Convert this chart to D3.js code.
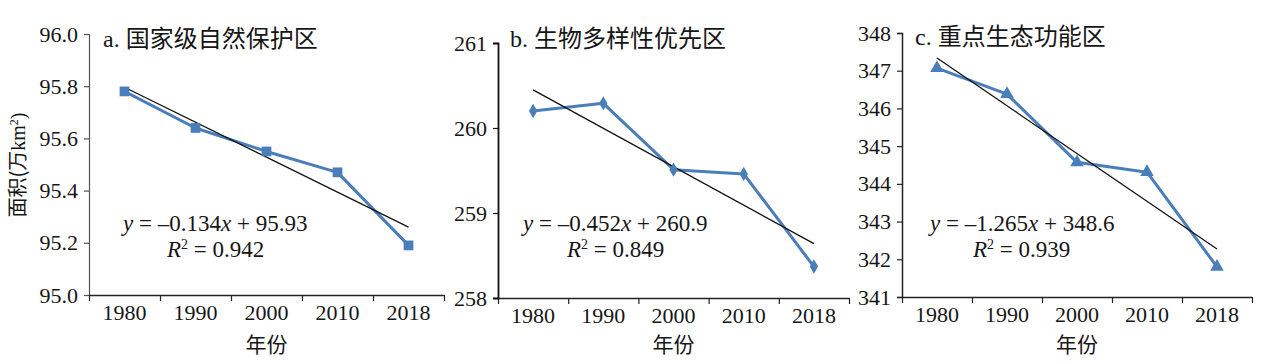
<!DOCTYPE html>
<html><head><meta charset="utf-8">
<script src="https://cdn.jsdelivr.net/npm/d3@7"></script>
<style>
body{margin:0;background:#fff;}
svg{display:block;}
text{font-family:"Liberation Serif","Times New Roman","DejaVu Serif",serif;fill:#161616;}
.num{font-family:"Liberation Serif","Times New Roman","DejaVu Serif",serif !important;}
.cjk{font-family:"Noto Sans CJK SC",sans-serif !important;}
</style></head>
<body><svg id="c" width="1274" height="364"></svg>
<script>
const years = ["1980","1990","2000","2010","2018"];
const seriesA = [95.78, 95.64, 95.55, 95.47, 95.19];
const seriesB = [260.20, 260.29, 259.51, 259.46, 258.37];
const seriesC = [347.07, 346.38, 344.57, 344.31, 341.80];
const trendA = {slope:-0.134, intercept:95.93, r2:"0.942", eq:"0.134", b:"95.93"};
const trendB = {slope:-0.452, intercept:260.9, r2:"0.849", eq:"0.452", b:"260.9"};
const trendC = {slope:-1.265, intercept:348.6, r2:"0.939", eq:"1.265", b:"348.6"};
const ticksA = [95.0,95.2,95.4,95.6,95.8,96.0];
const ticksB = [258,259,260,261];
const ticksC = [341,342,343,344,345,346,347,348];
const titles = ["a. 国家级自然保护区","b. 生物多样性优先区","c. 重点生态功能区"];
const xLabel = "年份";

const panels = [
  {data:seriesA, trend:trendA, ticks:ticksA, fmt:d3.format(".1f"), title:titles[0], marker:d3.symbolSquare, msize:95,
   x0:89, x1:444, yTop:34, yBot:295, axisColor:"#555", axisW:1.2, titleX:103, titleY:47, eqX:123, rX:167},
  {data:seriesB, trend:trendB, ticks:ticksB, fmt:d3.format("d"), title:titles[1], marker:d3.symbolDiamond, msize:60,
   x0:498, x1:849, yTop:43, yBot:298, axisColor:"#111", axisW:1.8, titleX:510, titleY:47, eqX:523, rX:567},
  {data:seriesC, trend:trendC, ticks:ticksC, fmt:d3.format("d"), title:titles[2], marker:d3.symbolTriangle, msize:80,
   x0:902, x1:1252, yTop:33, yBot:297, axisColor:"#222", axisW:1.5, titleX:915, titleY:45, eqX:930, rX:973}
];

const svg = d3.select("#c");
const blue = "#4a7ebb";

panels.forEach(p => {
  const x = d3.scaleBand().domain(years).range([p.x0, p.x1]).paddingInner(0).paddingOuter(0);
  const yd = d3.extent(p.ticks);
  const y = d3.scaleLinear().domain(yd).range([p.yBot, p.yTop]);
  const g = svg.append("g");

  // y axis
  const ya = g.append("g").attr("transform",`translate(${p.x0},0)`)
    .call(d3.axisLeft(y).tickValues(p.ticks).tickFormat(p.fmt).tickSize(5).tickPadding(6));
  ya.attr("font-family",null).attr("font-size",null);
  ya.select(".domain").attr("stroke",p.axisColor).attr("stroke-width",p.axisW);
  ya.selectAll(".tick line").attr("stroke",p.axisColor).attr("stroke-width",1.2);
  ya.selectAll("text").attr("class","num").style("font-size","22px").attr("fill","#161616");

  // x axis: tick marks at band boundaries
  const bnd = d3.scaleLinear().domain([0, years.length]).range([p.x0, p.x1]);
  const xa = g.append("g").attr("transform",`translate(0,${p.yBot})`)
    .call(d3.axisBottom(bnd).tickValues(d3.range(years.length+1)).tickFormat("").tickSize(6).tickSizeOuter(0));
  xa.select(".domain").attr("stroke","#222").attr("stroke-width",1.5);
  xa.selectAll(".tick line").attr("stroke","#222").attr("stroke-width",1.2);
  const xl = g.append("g").attr("transform",`translate(0,${p.yBot})`)
    .call(d3.axisBottom(x).tickSize(0).tickPadding(9));
  xl.attr("font-family",null).attr("font-size",null);
  xl.select(".domain").remove();
  xl.selectAll("text").attr("class","num").style("font-size","22px").attr("fill","#161616");

  // x label
  g.append("text").attr("class","cjk").attr("x",(p.x0+p.x1)/2).attr("y",352)
    .attr("text-anchor","middle").style("font-size","21px").text(xLabel);

  // title
  const parts = p.title.split(" ");
  const t = g.append("text").attr("x",p.titleX).attr("y",p.titleY).style("font-size","24px");
  t.append("tspan").attr("class","num").text(parts[0]+" ");
  t.append("tspan").attr("class","cjk").text(parts[1]);

  // data line
  const line = d3.line().x((d,i)=>x(years[i])+x.bandwidth()/2).y(d=>y(d));
  g.append("path").datum(p.data).attr("d",line).attr("fill","none")
    .attr("stroke",blue).attr("stroke-width",3).attr("stroke-linejoin","round");

  // trend line
  const tr = [1, years.length].map(k => ({i:k-1, v:p.trend.slope*k + p.trend.intercept}));
  g.append("line")
    .attr("x1", x(years[tr[0].i])+x.bandwidth()/2).attr("y1", y(tr[0].v))
    .attr("x2", x(years[tr[1].i])+x.bandwidth()/2).attr("y2", y(tr[1].v))
    .attr("stroke","#111").attr("stroke-width",1.3);

  // markers
  g.selectAll(".m").data(p.data).enter().append("path")
    .attr("transform",(d,i)=>`translate(${x(years[i])+x.bandwidth()/2},${y(d)})`)
    .attr("d", d3.symbol().type(p.marker).size(p.msize)).attr("fill",blue);

  // equation
  const eq = g.append("text").attr("class","num").attr("x",p.eqX).attr("y",231).style("font-size","23px");
  eq.append("tspan").style("font-style","italic").text("y");
  eq.append("tspan").text(" = –" + p.trend.eq);
  eq.append("tspan").style("font-style","italic").text("x");
  eq.append("tspan").text(" + " + p.trend.b);
  const r = g.append("text").attr("class","num").attr("x",p.rX).attr("y",257).style("font-size","23px");
  r.append("tspan").style("font-style","italic").text("R");
  r.append("tspan").attr("dy",-8).style("font-size","14px").text("2");
  r.append("tspan").attr("dy",8).text(" = " + p.trend.r2);
});

// y label
const yl = svg.append("text").attr("transform","translate(25,165) rotate(-90)")
  .attr("text-anchor","middle").style("font-size","20px");
yl.append("tspan").attr("class","cjk").text("面积(万");
yl.append("tspan").attr("class","num").text("km");
yl.append("tspan").attr("class","num").attr("dy",-7).style("font-size","12px").text("2");
yl.append("tspan").attr("class","num").attr("dy",7).text(")");
</script></body></html>
